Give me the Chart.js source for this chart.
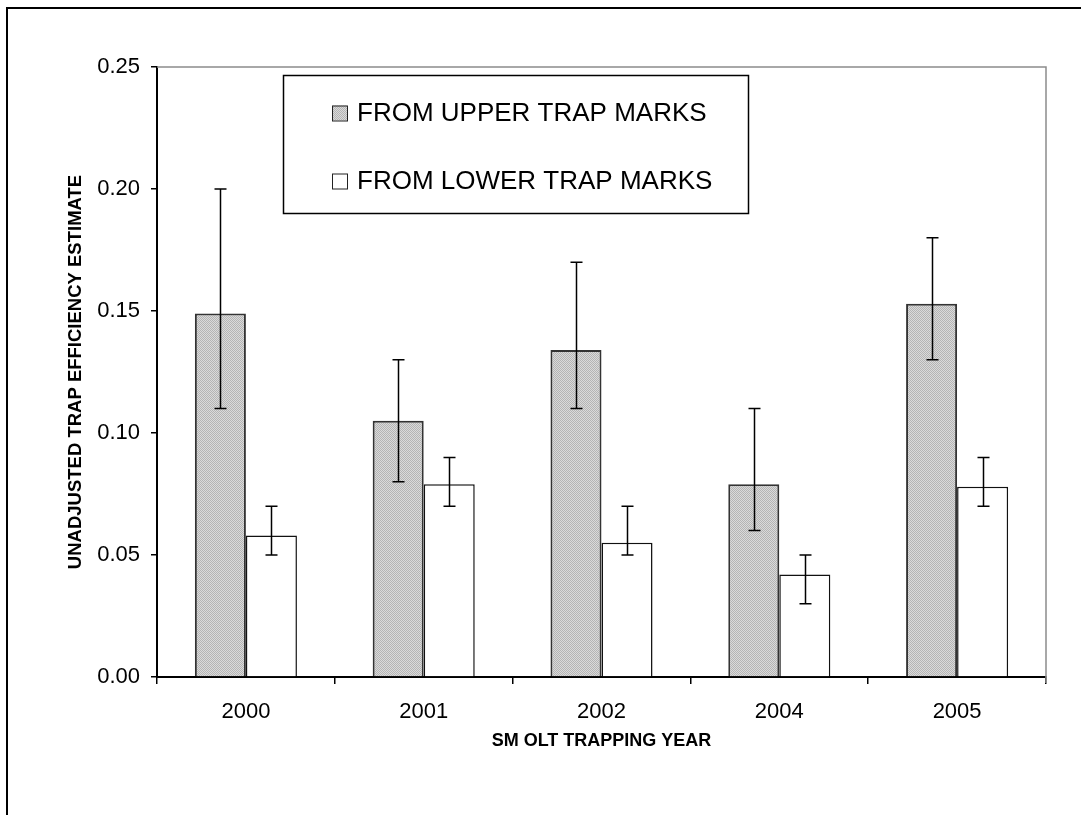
<!DOCTYPE html>
<html>
<head>
<meta charset="utf-8">
<script src="https://cdn.jsdelivr.net/npm/chart.js@4/dist/chart.umd.min.js"></script>
<style>
  html, body { margin: 0; padding: 0; background: #fff; }
  #wrap { position: relative; width: 1081px; height: 815px; }
</style>
</head>
<body>
<div id="wrap"><canvas id="c"></canvas></div>
<script>
const years = ['2000', '2001', '2002', '2004', '2005'];
const upperLabel = 'FROM UPPER TRAP MARKS';
const lowerLabel = 'FROM LOWER TRAP MARKS';
const upperValues = [0.149, 0.105, 0.134, 0.079, 0.153];
const upperLow    = [0.110, 0.080, 0.110, 0.060, 0.130];
const upperHigh   = [0.200, 0.130, 0.170, 0.110, 0.180];
const lowerValues = [0.058, 0.079, 0.055, 0.042, 0.078];
const lowerLow    = [0.050, 0.070, 0.050, 0.030, 0.070];
const lowerHigh   = [0.070, 0.090, 0.070, 0.050, 0.090];
const yTicks = [0, 0.05, 0.10, 0.15, 0.20, 0.25];
const xTitle = 'SM OLT TRAPPING YEAR';
const yTitle = 'UNADJUSTED TRAP EFFICIENCY ESTIMATE';

const FONT = "'Liberation Sans', Arial, sans-serif";

function makePattern() {
  const p = document.createElement('canvas');
  p.width = 2; p.height = 2;
  const g = p.getContext('2d');
  g.fillStyle = '#dadada'; g.fillRect(0, 0, 2, 2);
  g.fillStyle = '#b4b4b4'; g.fillRect(0, 0, 1, 1); g.fillRect(1, 1, 1, 1);
  return g.createPattern(p, 'repeat');
}
const ctx0 = document.getElementById('c').getContext('2d');
const grayPattern = makePattern();

const errorBars = {
  id: 'errorBars',
  afterDatasetsDraw(chart) {
    const ctx = chart.ctx;
    const ys = chart.scales.y;
    const lows = [upperLow, lowerLow];
    const highs = [upperHigh, lowerHigh];
    ctx.save();
    ctx.strokeStyle = '#000';
    ctx.lineWidth = 1.5;
    chart.data.datasets.forEach((ds, i) => {
      const meta = chart.getDatasetMeta(i);
      meta.data.forEach((bar, j) => {
        const x = Math.round(bar.x) + 0.5;
        const y1 = ys.getPixelForValue(lows[i][j]);
        const y2 = ys.getPixelForValue(highs[i][j]);
        ctx.beginPath();
        ctx.moveTo(x, y1); ctx.lineTo(x, y2);
        ctx.moveTo(x - 6, y1); ctx.lineTo(x + 6, y1);
        ctx.moveTo(x - 6, y2); ctx.lineTo(x + 6, y2);
        ctx.stroke();
      });
    });
    ctx.restore();
  }
};

const frame = {
  id: 'frame',
  beforeDraw(chart) {
    const ctx = chart.ctx;
    ctx.save();
    ctx.fillStyle = '#fff';
    ctx.fillRect(0, 0, chart.width, chart.height);
    ctx.strokeStyle = '#000';
    ctx.lineWidth = 2;
    ctx.beginPath();
    ctx.moveTo(7, chart.height); ctx.lineTo(7, 8); ctx.lineTo(chart.width, 8);
    ctx.stroke();
    ctx.restore();
  },
  beforeDatasetsDraw(chart) {
    const a = chart.chartArea;
    const ctx = chart.ctx;
    ctx.save();
    ctx.strokeStyle = '#8c8c8c';
    ctx.lineWidth = 1.5;
    ctx.beginPath();
    ctx.moveTo(a.left, a.top); ctx.lineTo(a.right, a.top); ctx.lineTo(a.right, a.bottom + 6);
    ctx.stroke();
    ctx.restore();
  }
};

const boxLegend = {
  id: 'boxLegend',
  afterDraw(chart) {
    const a = chart.chartArea;
    const ctx = chart.ctx;
    const L = a.left + 126, T = a.top + 8, W = 465, H = 138;
    ctx.save();
    ctx.fillStyle = '#fff';
    ctx.fillRect(L, T, W, H);
    ctx.strokeStyle = '#000';
    ctx.lineWidth = 1.5;
    ctx.strokeRect(L + 0.5, T + 0.5, W, H);
    ctx.font = '26px ' + FONT;
    ctx.textBaseline = 'middle';
    ctx.fillStyle = '#000';
    const rows = [T + 38, T + 106];
    chart.data.datasets.forEach((ds, i) => {
      const cy = rows[i];
      ctx.fillStyle = ds.backgroundColor;
      ctx.fillRect(L + 49, cy - 7.5, 15, 15);
      ctx.strokeStyle = '#222';
      ctx.lineWidth = 1;
      ctx.strokeRect(L + 49.5, cy - 7, 15, 15);
      ctx.fillStyle = '#000';
      ctx.fillText(ds.label, L + 74, cy + 1);
    });
    ctx.restore();
  }
};

new Chart(ctx0, {
  type: 'bar',
  data: {
    labels: years,
    datasets: [
      { label: upperLabel, data: upperValues, backgroundColor: grayPattern,
        borderColor: '#333', borderWidth: 2, borderSkipped: 'bottom',
        categoryPercentage: 0.574, barPercentage: 1 },
      { label: lowerLabel, data: lowerValues, backgroundColor: '#ffffff',
        borderColor: '#111', borderWidth: 1.5, borderSkipped: 'bottom',
        categoryPercentage: 0.574, barPercentage: 1 }
    ]
  },
  options: {
    responsive: true,
    maintainAspectRatio: false,
    animation: false,
    devicePixelRatio: 1,
    layout: { padding: { left: 0, top: 67, right: 35, bottom: 0 } },
    plugins: { legend: { display: false }, tooltip: { enabled: false } },
    scales: {
      x: {
        grid: { display: true, offset: true, drawOnChartArea: false, drawTicks: true,
                tickLength: 7, color: '#000', lineWidth: 1.5 },
        border: { display: true, color: '#000', width: 2 },
        ticks: { color: '#000', font: { family: FONT, size: 22 }, padding: 15 },
        title: { display: true, text: xTitle, color: '#000',
                 font: { family: FONT, size: 18, weight: 'bold' }, padding: { top: 0, bottom: 63 } },
        afterFit(s) { s.height = 138; }
      },
      y: {
        min: 0, max: 0.25,
        afterBuildTicks(s) { s.ticks = yTicks.map(v => ({ value: v })); },
        grid: { display: true, drawOnChartArea: false, drawTicks: true,
                tickLength: 6, color: '#000', lineWidth: 1.5 },
        border: { display: true, color: '#000', width: 2 },
        ticks: { color: '#000', font: { family: FONT, size: 22 }, padding: 11,
                 callback: v => Number(v).toFixed(2) },
        title: { display: true, text: yTitle, color: '#000',
                 font: { family: FONT, size: 18.5, weight: 'bold' }, padding: { top: 65, bottom: 0 } },
        afterFit(s) { s.width = 157; }
      }
    }
  },
  plugins: [frame, errorBars, boxLegend]
});
</script>
</body>
</html>
